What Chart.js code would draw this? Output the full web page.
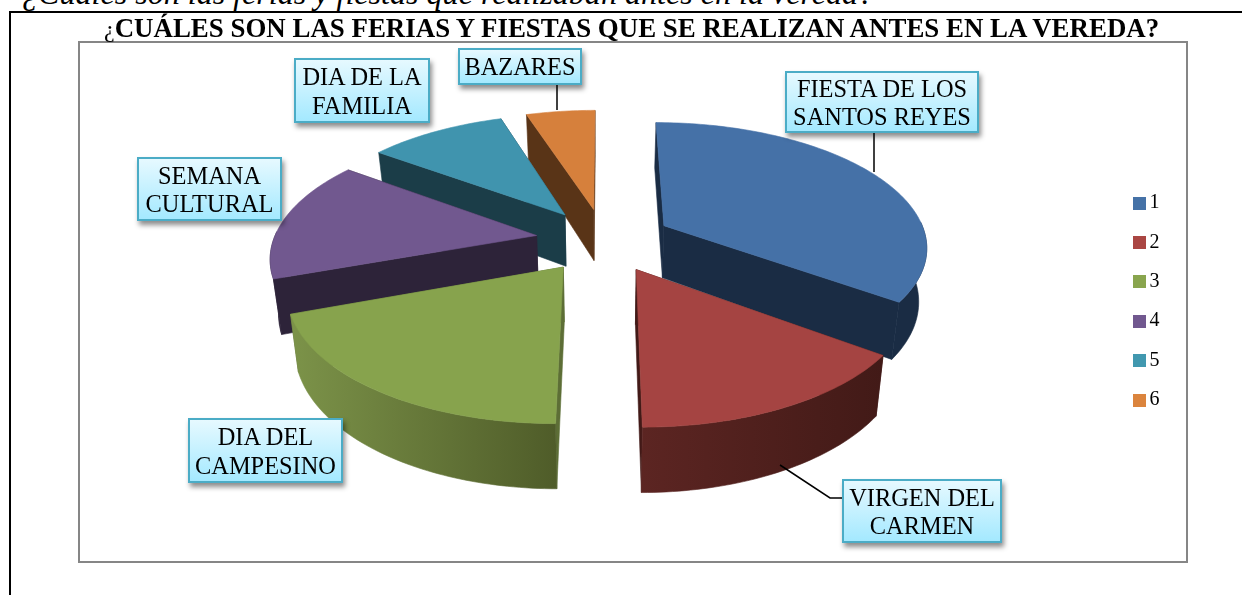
<!DOCTYPE html>
<html><head><meta charset="utf-8">
<script src="https://cdn.jsdelivr.net/npm/chart.js@4"></script>
<style>
html,body{margin:0;padding:0;background:#fff;overflow:hidden;width:1242px;height:595px}
body{position:relative;font-family:"Liberation Serif",serif;color:#000}
canvas{position:absolute;left:0;top:0}
.t{position:absolute;white-space:nowrap}
#lead{left:22px;top:-23px;font-size:32.1px;font-style:italic;line-height:32px}
#title{left:104px;top:14px;font-size:26.9px;font-weight:bold;line-height:28px}
#title span{font-weight:normal;font-size:24px}
#top{position:absolute;left:9px;top:11px;width:1233px;height:2px;background:#000}
#left{position:absolute;left:9px;top:11px;width:2px;height:584px;background:#000}
.c{position:absolute;box-sizing:border-box;border:2px solid #4bacc6;background:linear-gradient(#e6f9ff,#a4e9ff);
   box-shadow:2px 4px 5px rgba(0,0,0,.45);text-align:center;font-size:24.4px;line-height:28.5px;color:#000;padding-top:2px;
   display:flex;align-items:center;justify-content:center;white-space:pre-line}
</style></head><body>
<div id="lead" class="t">¿Cuáles son las ferias y fiestas que realizaban antes en la vereda?</div>
<div id="top"></div><div id="left"></div>
<canvas id="c" width="1242" height="595"></canvas>
<div id="title" class="t"><span>¿</span>CUÁLES SON LAS FERIAS Y FIESTAS QUE SE REALIZAN ANTES EN LA VEREDA?</div>
<script>
const categories = ["1","2","3","4","5","6"];
const shares = [35,15,19.5,15.5,10,5];
const sliceNames = ["FIESTA DE LOS\nSANTOS REYES","VIRGEN DEL\nCARMEN","DIA DEL\nCAMPESINO","SEMANA\nCULTURAL","DIA DE LA\nFAMILIA","BAZARES"];
const topColors = ["#4571a7","#a54442","#87a34d","#71588f","#4094ae","#d6803c"];
const legendColors = ["#4572a7","#aa4643","#89a54e","#71588f","#4198af","#db843d"];
const wallColors = ["#1a2c44","#421a17","#5d6e36","#2d2339","#1b3d48","#593417"];
const rimLeft = ["#1a2c44","#5c2522","#7c9349","#2d2339","#1b3d48","#593417"];
const rimRight = ["#1a2c44","#421a17","#4f5c29","#2d2339","#1b3d48","#593417"];
const paintOrder = [5,4,3,0,2,1];
const calloutBoxes = [[785,71,194,62],[842,479,160,64],[188,418,155,65],[137,157,145,64],[294,58,136,65],[458,48,124,37]];
const leaders = [[[874,133],[874,172]],[[780,465],[830,498],[843,498]],[],[],[],[[557,85],[557,110]]];
const view = {cx:604,cy:240,R:263,tilt:0.468,persp:0.154,depth:53,taper:0.025};

function project(u,v,z){
  const s=1/(1-view.persp*v);
  return [view.cx+view.R*u*s*(1-view.taper*z), view.cy+view.tilt*view.R*v*s+view.depth*z*s];
}
function poly(ctx,pts,fill){
  ctx.beginPath();pts.forEach((p,i)=>i?ctx.lineTo(p[0],p[1]):ctx.moveTo(p[0],p[1]));ctx.closePath();
  ctx.fillStyle=fill;ctx.fill();ctx.strokeStyle=fill;ctx.lineWidth=0.6;ctx.stroke();
}
function swatch(color){
  const k=document.createElement('canvas');k.width=13;k.height=13;
  const x=k.getContext('2d');x.fillStyle=color;x.fillRect(0,0,13,13);return k;
}
const pie3d={id:'pie3d',
  beforeDatasetsDraw(chart){
    const ctx=chart.ctx, meta=chart.getDatasetMeta(0);
    paintOrder.forEach(i=>{
      const el=meta.data[i], a0=el.startAngle, a1=el.endAngle, r=el.outerRadius, mid=(a0+a1)/2;
      const e=el.options.offset/r, ou=Math.cos(mid)*e, ov=Math.sin(mid)*e;
      const n=Math.max(4,Math.ceil((a1-a0)/0.02)), arc=[], angles=[];
      for(let k=0;k<=n;k++){const a=a0+(a1-a0)*k/n;angles.push(a);arc.push([ou+Math.cos(a),ov+Math.sin(a)]);}
      const top=arc.map(p=>project(p[0],p[1],0)), bot=arc.map(p=>project(p[0],p[1],1));
      const A0=project(ou,ov,0),A1=project(ou,ov,1);
      const wallS=[A0,top[0],bot[0],A1], wallE=[A0,top[n],bot[n],A1];
      const sFront=Math.cos(a0)<0, eFront=Math.cos(a1)>1e-6;
      const keep=angles.map(a=>Math.sin(a)>-0.05);
      const rimT=top.filter((p,k)=>keep[k]), rimB=bot.filter((p,k)=>keep[k]);
      ctx.save();
      if(!sFront)poly(ctx,wallS,wallColors[i]);
      if(!eFront)poly(ctx,wallE,wallColors[i]);
      if(rimT.length>1){
        const xs=rimT.concat(rimB).map(p=>p[0]), g=ctx.createLinearGradient(Math.min(...xs),0,Math.max(...xs),0);
        g.addColorStop(0,rimLeft[i]);g.addColorStop(1,rimRight[i]);
        poly(ctx,rimT.concat(rimB.slice().reverse()),g);
      }
      if(sFront)poly(ctx,wallS,wallColors[i]);
      if(eFront)poly(ctx,wallE,wallColors[i]);
      poly(ctx,[A0].concat(top),el.options.backgroundColor);
      ctx.restore();
    });
    ctx.save();ctx.strokeStyle='#000';ctx.lineWidth=1.5;
    leaders.forEach(l=>{if(!l.length)return;ctx.beginPath();l.forEach((p,i)=>i?ctx.lineTo(p[0],p[1]):ctx.moveTo(p[0],p[1]));ctx.stroke();});
    ctx.restore();
    return false;
  },
  beforeDraw(chart){
    const c=chart.ctx;c.save();c.strokeStyle='#868686';c.lineWidth=2;c.strokeRect(79,42,1108,520);c.restore();
  }
};
sliceNames.forEach((name,i)=>{
  const b=calloutBoxes[i],d=document.createElement('div');
  d.className='c';d.textContent=name;
  d.style.cssText=`left:${b[0]}px;top:${b[1]}px;width:${b[2]}px;height:${b[3]}px`;
  document.body.appendChild(d);
});
new Chart(document.getElementById('c'),{
  type:'pie',
  data:{labels:categories,datasets:[{data:shares,backgroundColor:topColors,borderWidth:0,offset:60}]},
  plugins:[pie3d],
  options:{
    responsive:false,animation:false,
    layout:{padding:{top:41,bottom:33,left:79,right:72.5}},
    plugins:{
      tooltip:{enabled:false},
      legend:{position:'right',labels:{
        color:'#222',font:{family:'"Liberation Serif"',size:20},boxHeight:13,padding:19.4,
        usePointStyle:true,pointStyleWidth:1,
        generateLabels:()=>categories.map((t,i)=>({text:t,fillStyle:legendColors[i],strokeStyle:legendColors[i],lineWidth:0,index:i,pointStyle:swatch(legendColors[i])}))
      }}
    }
  }
});
</script></body></html>
